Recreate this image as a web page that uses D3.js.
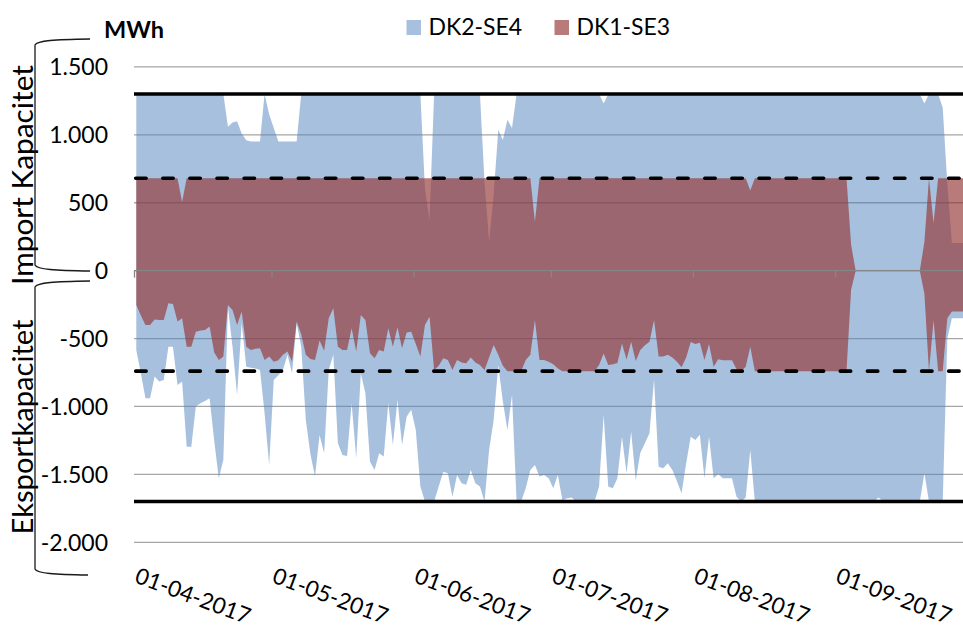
<!DOCTYPE html>
<html>
<head>
<meta charset="utf-8">
<script src="https://cdn.jsdelivr.net/npm/d3@7/dist/d3.min.js"></script>
<style>
  html, body { margin: 0; padding: 0; background: #fff; }
  svg { display: block; }
  text { font-family: Lato, "Open Sans", sans-serif; fill: #000; }
</style>
</head>
<body>
<svg id="chart" width="963" height="628"></svg>
<script>
// ---- data: daily transmission capacity, 1 April - 30 September 2017 (MWh) ----
const startDay = "2017-04-01";
const monthTicks = ["01-04-2017", "01-05-2017", "01-06-2017", "01-07-2017", "01-08-2017", "01-09-2017"];
const yTicks = [-2000, -1500, -1000, -500, 0, 500, 1000, 1500];
const seriesNames = ["DK2-SE4", "DK1-SE3"];
const axisTitles = ["Import Kapacitet", "Eksportkapacitet"];
const unitLabel = "MWh";

// DK2-SE4 import capacity (positive)
const dk2Import = [
  1300,1300,1300,1300,1300,1300,1300,1300,1300,1300,
  1300,1300,1300,1300,1300,1300,1300,1300,1300,1300,
  1060,1090,1100,1010,960,950,950,950,1300,1150,
  1050,950,950,950,950,950,1300,1300,1300,1300,
  1300,1300,1300,1300,1300,1300,1300,1300,1300,1300,
  1300,1300,1300,1300,1300,1300,1300,1300,1300,1300,
  1300,1300,1300,600,372,1300,1300,1300,1300,1300,
  1300,1300,1300,1300,1300,1300,650,213,560,1035,
  962,1110,1050,1300,1300,1300,1300,1300,1300,1300,
  1300,1300,1300,1300,1300,1300,1300,1300,1300,1300,
  1300,1300,1230,1300,1300,1300,1300,1300,1300,1300,
  1300,1300,1300,1300,1300,1300,1300,1300,1300,1300,
  1300,1300,1300,1300,1300,1300,1300,1300,1300,1300,
  1300,1300,1300,1300,1300,1300,1300,1300,1300,1300,
  1300,1300,1300,1300,1300,1300,1300,1300,1300,1300,
  1300,1300,1300,1300,1300,1300,1300,1300,1300,1300,
  1300,1300,1300,1300,1300,1300,1300,1300,1300,1300,
  1300,1300,1230,1300,1300,1300,1200,640,204,204,
  204,204,204
];
// DK2-SE4 export capacity (negative)
const dk2Export = [
  -584,-755,-940,-940,-780,-817,-805,-560,-560,-841,
  -817,-1296,-1296,-1001,-976,-960,-940,-1250,-1528,-1393,
  -265,-560,-915,-387,-707,-715,-720,-731,-1050,-1430,
  -805,-770,-731,-620,-755,-387,-560,-1100,-1350,-1516,
  -1210,-1344,-731,-620,-1271,-1357,-1364,-976,-1381,-755,
  -903,-1406,-1467,-1344,-1369,-976,-1283,-952,-1283,-1075,
  -1025,-1173,-1590,-1700,-1700,-1700,-1590,-1480,-1491,-1664,
  -1504,-1565,-1577,-1467,-1565,-1590,-1700,-1320,-1100,-694,
  -964,-1173,-915,-1700,-1700,-1600,-1467,-1430,-1516,-1504,
  -1528,-1602,-1504,-1690,-1676,-1670,-1700,-1700,-1700,-1700,
  -1700,-1590,-1062,-1590,-1602,-1528,-1222,-1491,-1185,-1545,
  -1340,-1270,-1197,-800,-1443,-1455,-1418,-1467,-1550,-1639,
  -1420,-1222,-1246,-1209,-1528,-1222,-1528,-1497,-1528,-1528,
  -1528,-1664,-1700,-1670,-1320,-1700,-1700,-1700,-1700,-1700,
  -1700,-1700,-1700,-1700,-1700,-1700,-1700,-1700,-1700,-1700,
  -1700,-1700,-1700,-1700,-1700,-1700,-1700,-1700,-1700,-1700,
  -1700,-1700,-1670,-1700,-1700,-1700,-1700,-1700,-1700,-1700,
  -1700,-1700,-1490,-1700,-1700,-1700,-1700,-500,-350,-350,
  -350,-350,-350
];
// DK1-SE3 import capacity (positive)
const dk1Import = [
  680,680,680,680,680,680,680,680,680,680,
  505,680,680,680,680,680,680,680,680,680,
  680,680,680,680,680,680,680,680,680,680,
  680,680,680,680,680,680,680,680,680,680,
  680,680,680,680,680,680,680,680,680,680,
  680,680,680,680,680,680,680,680,680,680,
  680,680,680,680,680,680,680,680,680,680,
  680,680,680,680,680,680,680,680,680,680,
  680,680,680,680,680,680,680,360,680,680,
  680,680,680,680,680,680,680,680,680,680,
  680,680,680,680,680,680,680,680,680,680,
  680,680,680,680,680,680,680,680,680,680,
  680,680,680,680,680,680,680,680,680,680,
  680,680,680,680,590,680,680,680,680,680,
  680,680,680,680,680,680,680,680,680,680,
  680,680,680,680,680,680,190,0,0,0,
  0,0,0,0,0,0,0,0,0,0,
  0,0,210,680,350,680,680,680,680,680,
  680,680,680
];
// DK1-SE3 export capacity (negative)
const dk1Export = [
  -253,-330,-400,-400,-360,-363,-363,-240,-245,-375,
  -350,-560,-560,-450,-440,-437,-412,-600,-657,-633,
  -253,-290,-400,-300,-560,-584,-575,-571,-657,-633,
  -670,-660,-620,-596,-670,-375,-470,-620,-650,-657,
  -515,-590,-350,-277,-560,-584,-584,-424,-596,-326,
  -363,-608,-645,-584,-596,-424,-560,-417,-571,-456,
  -449,-540,-633,-400,-339,-731,-700,-645,-657,-731,
  -657,-677,-682,-640,-677,-694,-731,-640,-547,-620,
  -700,-740,-740,-740,-740,-657,-620,-363,-657,-657,
  -670,-690,-720,-740,-740,-740,-740,-740,-740,-740,
  -740,-694,-610,-694,-690,-680,-537,-655,-523,-665,
  -584,-550,-523,-363,-633,-633,-620,-640,-670,-712,
  -640,-525,-540,-530,-657,-540,-707,-652,-660,-660,
  -660,-726,-740,-707,-560,-740,-740,-740,-740,-740,
  -740,-740,-740,-740,-740,-740,-740,-740,-740,-740,
  -740,-740,-740,-740,-740,-740,-140,0,0,0,
  0,0,0,0,0,0,0,0,0,0,
  0,0,-170,-740,-365,-740,-740,-350,-300,-300,
  -300,-300,-300
];
// rated capacities: [import, export]
const dk2Rated = [1300, -1700];
const dk1Rated = [680, -740];

// ---- scales ----
const svg = d3.select("#chart");
const parseDay = d3.timeParse("%Y-%m-%d");
const parseTick = d3.timeParse("%d-%m-%Y");
const first = parseDay(startDay);
const days = d3.timeDay.range(first, d3.timeDay.offset(first, dk2Import.length));
const plotLeft = 134, dayWidth = 4.582;
const x = d3.scaleTime()
  .domain([first, d3.timeDay.offset(first, days.length)])
  .range([plotLeft, plotLeft + dayWidth * days.length]);
const y = d3.scaleLinear().domain([-2000, 1500]).range([542.3, 66.9]);
const xMin = x.range()[0], xMax = x.range()[1];
const mid = d => d3.timeHour.offset(d, 12);

const daNumber = d3.formatLocale({ decimal: ",", thousands: ".", grouping: [3], currency: ["", " kr"], minus: "-" });
const fmt = daNumber.format(",.0f");

// ---- gridlines ----
svg.append("g").selectAll("line").data(yTicks).join("line")
  .attr("x1", xMin).attr("x2", xMax)
  .attr("y1", d => y(d)).attr("y2", d => y(d))
  .attr("stroke", "#a6a6a6").attr("stroke-width", 1.3);

// ---- capacity bands ----
const rows = days.map((d, i) => ({
  date: mid(d),
  dk2i: dk2Import[i], dk2e: dk2Export[i],
  dk1i: dk1Import[i], dk1e: dk1Export[i]
}));
const band = (lo, hi) => d3.area().x(d => x(d.date)).y0(d => y(d[lo])).y1(d => y(d[hi]));

svg.append("path").datum(rows)
  .attr("d", band("dk2e", "dk2i"))
  .attr("fill", "#4f81bd").attr("fill-opacity", 0.5);
svg.append("path").datum(rows)
  .attr("d", band("dk1e", "dk1i"))
  .attr("fill", "#953735").attr("fill-opacity", 0.66);

// ---- date axis along zero ----
const xAxis = d3.axisBottom(x)
  .tickValues(monthTicks.map(parseTick))
  .tickFormat(d3.timeFormat("%d-%m-%Y"))
  .tickSize(7).tickSizeOuter(0);
const gx = svg.append("g").attr("transform", `translate(0,${y(0)})`).call(xAxis);
gx.select(".domain").attr("stroke", "#868686").attr("stroke-width", 1.3)
  .attr("d", `M${xMin},0H${xMax}`);
gx.selectAll(".tick line").attr("stroke", "#868686").attr("stroke-width", 1.3);
gx.selectAll(".tick text")
  .attr("x", 0).attr("y", 0).attr("dy", 0)
  .attr("text-anchor", "start")
  .attr("transform", `translate(-1,${582 - y(0)}) rotate(20.5)`)
  .style("font-family", "Lato, 'Open Sans', sans-serif")
  .style("font-size", "22.5px").attr("fill", "#000");

// ---- value axis labels ----
const yAxis = d3.axisLeft(y).tickValues(yTicks).tickFormat(fmt).tickSize(0).tickPadding(0);
const gy = svg.append("g").attr("transform", "translate(108,0)").call(yAxis);
gy.select(".domain").remove();
gy.selectAll(".tick text")
  .style("font-family", "Lato, 'Open Sans', sans-serif")
  .style("font-size", "23px").attr("fill", "#000").attr("dy", "0.34em");

// ---- rated capacity lines ----
const limits = svg.append("g");
dk2Rated.forEach(v => {
  limits.append("line").attr("x1", xMin).attr("x2", xMax)
    .attr("y1", y(v)).attr("y2", y(v))
    .attr("stroke", "#000").attr("stroke-width", 3.4);
});
dk1Rated.forEach(v => {
  limits.append("line").attr("x1", xMin + 1.7).attr("x2", xMax)
    .attr("y1", y(v)).attr("y2", y(v))
    .attr("stroke", "#000").attr("stroke-width", 3.6)
    .attr("stroke-linecap", "round")
    .attr("stroke-dasharray", "10.4,16.7");
});

// ---- legend ----
const legendColors = [["#4f81bd", 0.5], ["#953735", 0.66]];
const legendX = [406.5, 554.5];
seriesNames.forEach((name, i) => {
  svg.append("rect").attr("x", legendX[i]).attr("y", 20).attr("width", 14.5).attr("height", 15)
    .attr("fill", legendColors[i][0]).attr("fill-opacity", legendColors[i][1]);
  svg.append("text").attr("x", legendX[i] + 22).attr("y", 35)
    .style("font-size", "23px").text(name);
});

// ---- unit label and side titles ----
svg.append("text").attr("x", 104).attr("y", 37.5)
  .style("font-size", "23.5px").style("font-weight", "bold").text(unitLabel);

svg.append("text").attr("transform", "translate(33,175) rotate(-90)")
  .attr("text-anchor", "middle").style("font-size", "28px")
  .attr("textLength", 220).attr("lengthAdjust", "spacingAndGlyphs").text(axisTitles[0]);
svg.append("text").attr("transform", "translate(33,427) rotate(-90)")
  .attr("text-anchor", "middle").style("font-size", "28px")
  .attr("textLength", 215).attr("lengthAdjust", "spacingAndGlyphs").text(axisTitles[1]);

// ---- brackets grouping the two halves ----
const brackets = svg.append("g").attr("fill", "none").attr("stroke", "#1a1a1a").attr("stroke-width", 1.3);
brackets.append("path").attr("d", "M90,39 C55,39.5 37,40.5 35,45 L35,265 C37,269.5 55,270.5 90,271");
brackets.append("path").attr("d", "M90,281 C55,281.5 37,282.5 35,287 L35,569 C37,573.5 55,574.5 88,575");
</script>
</body>
</html>
